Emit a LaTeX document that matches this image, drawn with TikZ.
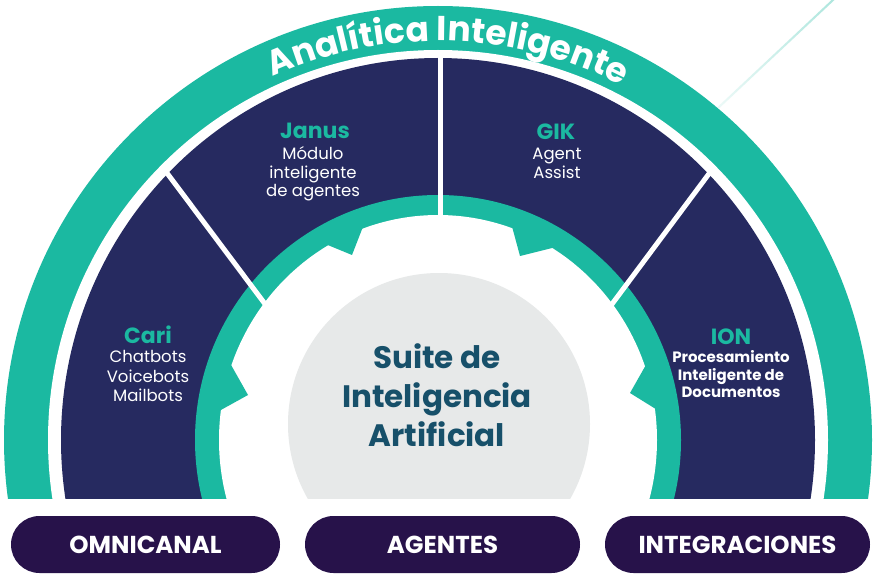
\documentclass[tikz,border=0pt]{standalone}
\usepackage{fontspec}
\setmainfont{Poppins}
\usetikzlibrary{decorations.text}
\definecolor{teal1}{HTML}{1BB9A1}
\definecolor{navy1}{HTML}{262A60}
\definecolor{btn}{HTML}{27124A}
\definecolor{gray1}{HTML}{E7E9E9}
\definecolor{suite}{HTML}{17506A}
\tikzset{
 title/.style={text=teal1, font=\fontsize{22}{22}\selectfont\bfseries, anchor=base, inner sep=0pt},
 body/.style={text=white, font=\fontsize{16.5}{16.5}\selectfont, anchor=base, inner sep=0pt},
 bodyb/.style={text=white, font=\fontsize{15}{15}\selectfont\bfseries, anchor=base, inner sep=0pt},
 suitetxt/.style={text=suite, font=\fontsize{31}{31}\selectfont\bfseries, anchor=base, inner sep=0pt},
 pill/.style={fill=btn, rounded corners=28.5pt, minimum height=57pt, text=white, font=\fontsize{24.5}{24.5}\selectfont\bfseries, inner sep=0pt},
 spoke/.style={draw=white, line width=5pt},
 notch/.style={fill=teal1}
}
\begin{document}
\begin{tikzpicture}[x=1pt,y=1pt]
\useasboundingbox (0,0) rectangle (873,574);
\fill[white] (0,0) rectangle (873,574);
% decorative line
\shade[top color=teal1!35, bottom color=teal1!8] (831.5,574) -- (834.5,574) -- (719.5,466) -- (716.5,466) -- cycle;
\begin{scope}
\clip (0,76) rectangle (873,574);
\fill[teal1] (438,134) ellipse [x radius=434, y radius=434];
\fill[white] (438,134) ellipse [x radius=390, y radius=390];
\fill[navy1] (438,134) ellipse [x radius=377, y radius=382];
\fill[teal1] (438,134) ellipse [x radius=243, y radius=245];
% spokes
\coordinate (sv1) at (440,518); \coordinate (sv2) at (440,335);
\coordinate (sl1) at (164,405); \coordinate (sl2) at (269.5,264);
\coordinate (sr1) at (711,403); \coordinate (sr2) at (607.6,264);
\draw[spoke] (sv1) -- (sv2);
\draw[spoke] (sl1) -- (sl2);
\draw[spoke] (sr1) -- (sr2);
% gear
\fill[white] (438,134) ellipse [x radius=219, y radius=225];
\fill[notch] (366,355) -- (352,319) -- (318,333) -- cycle;
\fill[notch] (510,355) -- (520,318) -- (560,328) -- cycle;
\fill[notch] (226,218) -- (248,179) -- (210,158) -- cycle;
\fill[notch] (651,218) -- (630,181) -- (667,158) -- cycle;
\fill[gray1] (439,150) circle [radius=151];
\end{scope}
% arc title
\path[decorate, decoration={text along path, text color=white, text align=center,
  text={|\fontsize{34.5}{34.5}\selectfont\bfseries|Analítica Inteligente}}]
  (438,134) ++(173.5:399) arc[start angle=173.5, end angle=3.5, radius=399];
% segment texts
\node[title] (janus) at (315,435) {Janus};
\node[body] (jan1) at (313,414) {Módulo};
\node[body] (jan2) at (313,395) {inteligente};
\node[body] (jan3) at (313,377) {de agentes};
\node[title] (gik) at (556,434) {GIK};
\node[body] (gik1) at (557,414) {Agent};
\node[body] (gik2) at (557,395) {Assist};
\node[title] (cari) at (148,231) {Cari};
\node[body] (cari1) at (148,212) {Chatbots};
\node[body] (cari2) at (148,192) {Voicebots};
\node[body] (cari3) at (148,173) {Mailbots};
\node[title] (ion) at (731,230) {ION};
\node[bodyb] (ion1) at (731,212) {Procesamiento};
\node[bodyb] (ion2) at (731,194) {Inteligente de};
\node[bodyb] (ion3) at (731,177) {Documentos};
\node[suitetxt] (s1) at (437,206) {Suite de};
\node[suitetxt] (s2) at (437,167) {Inteligencia};
\node[suitetxt] (s3) at (437,128) {Artificial};
% buttons
\node[pill, minimum width=269pt] (omni) at (145.5,29.5) {OMNICANAL};
\node[pill, minimum width=275pt] (agen) at (442.5,29.5) {AGENTES};
\node[pill, minimum width=265pt] (integ) at (737.5,29.5) {INTEGRACIONES};
\end{tikzpicture}
\end{document}
